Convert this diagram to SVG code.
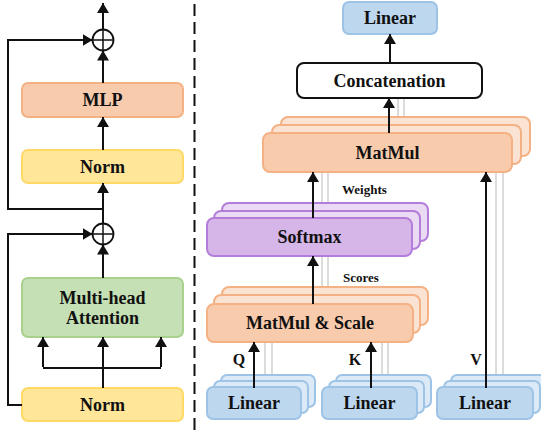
<svg xmlns="http://www.w3.org/2000/svg" width="541" height="433" viewBox="0 0 541 433">
<style>
text{font-family:"Liberation Serif","Times New Roman",serif;font-weight:bold;fill:#111;text-anchor:middle;dominant-baseline:central}
.t{font-size:18px}
.s{font-size:13px;text-anchor:start}
.l{font-size:16px}
.box{stroke-width:2}
.or{fill:#F8CBAD;stroke:#F4B183}
.orb{fill:#FBE3D3;stroke:#F4B183}
.ye{fill:#FFE699;stroke:#FFD966}
.gr{fill:#C5E0B4;stroke:#A9D18E}
.bl{fill:#BDD7EE;stroke:#9DC3E6}
.blb{fill:#DCEAF7;stroke:#9DC3E6}
.pu{fill:#D6B5E8;stroke:#B57DDA}
.pub{fill:#EADAF4;stroke:#B57DDA}
.wh{fill:#fff;stroke:#111}
.ln{fill:none;stroke:#111;stroke-width:2}
.ar{fill:none;stroke:#111;stroke-width:2;marker-end:url(#ah)}
.gy{fill:none;stroke:#d4d4d4;stroke-width:1.6}
</style>
<defs>
<marker id="ah" viewBox="0 0 10 12" refX="10" refY="6" markerWidth="10" markerHeight="12" markerUnits="userSpaceOnUse" orient="auto">
<path d="M0,0 L10,6 L0,12 z" fill="#111"/>
</marker>
</defs>

<g id="gray-lines">
<line class="gy" x1="398" y1="98" x2="398" y2="118"/>
<line class="gy" x1="404" y1="98" x2="404" y2="118"/>
<line class="gy" x1="322" y1="172" x2="322" y2="204"/>
<line class="gy" x1="328" y1="172" x2="328" y2="204"/>
<line class="gy" x1="322" y1="256" x2="322" y2="288"/>
<line class="gy" x1="328" y1="256" x2="328" y2="288"/>
<line class="gy" x1="265" y1="342" x2="265" y2="376"/>
<line class="gy" x1="272" y1="342" x2="272" y2="376"/>
<line class="gy" x1="382" y1="342" x2="382" y2="376"/>
<line class="gy" x1="388" y1="342" x2="388" y2="376"/>
<line class="gy" x1="496" y1="172" x2="496" y2="376"/>
<line class="gy" x1="503" y1="172" x2="503" y2="376"/>
</g>

<g id="divider">
<line x1="194.5" y1="4" x2="194.5" y2="433" stroke="#111" stroke-width="2" stroke-dasharray="12,6"/>
</g>

<g id="mlp"><rect class="box or" x="22" y="83" width="161" height="34" rx="6"/><text class="t" x="102.5" y="100">MLP</text></g>
<g id="norm1"><rect class="box ye" x="22" y="150" width="161" height="33" rx="6"/><text class="t" x="102.5" y="166.5">Norm</text></g>
<g id="mha"><rect class="box gr" x="22" y="278" width="161" height="59" rx="6"/><text class="t" x="102.5" y="297.5">Multi-head</text><text class="t" x="102.5" y="317.5">Attention</text></g>
<g id="norm2"><rect class="box ye" x="22" y="388" width="161" height="33" rx="6"/><text class="t" x="102.5" y="404.5">Norm</text></g>
<g id="add1"><circle cx="103" cy="40" r="10.5" fill="#fff" stroke="#111" stroke-width="1.8"/><path d="M92.5,40 H113.5 M103,29.5 V50.5" stroke="#111" stroke-width="1.5"/></g>
<g id="add2"><circle cx="103" cy="234" r="10.5" fill="#fff" stroke="#111" stroke-width="1.8"/><path d="M92.5,234 H113.5 M103,223.5 V244.5" stroke="#111" stroke-width="1.5"/></g>

<g id="linear-out"><rect class="box bl" x="343" y="2" width="94" height="32" rx="6"/><text class="t" x="390" y="18">Linear</text></g>
<g id="concat"><rect class="box wh" x="297" y="63" width="185" height="35" rx="7"/><text class="t" x="389.5" y="80.5">Concatenation</text></g>
<g id="matmul">
<rect class="box orb" x="281" y="117" width="249" height="39" rx="7"/>
<rect class="box orb" x="272" y="125" width="249" height="39" rx="7"/>
<rect class="box or" x="263" y="133" width="249" height="39" rx="7"/>
<text class="t" x="387.5" y="152.5">MatMul</text>
</g>
<g id="softmax">
<rect class="box pub" x="222" y="203" width="206" height="38" rx="7"/>
<rect class="box pub" x="214" y="211" width="206" height="38" rx="7"/>
<rect class="box pu" x="207" y="218" width="205" height="38" rx="7"/>
<text class="t" x="309.5" y="237">Softmax</text>
</g>
<g id="matmul-scale">
<rect class="box orb" x="222" y="287" width="206" height="38" rx="7"/>
<rect class="box orb" x="214" y="295" width="206" height="38" rx="7"/>
<rect class="box or" x="207" y="304" width="206" height="38" rx="7"/>
<text class="t" x="310" y="323">MatMul &amp; Scale</text>
</g>
<g id="linear-q">
<rect class="box blb" x="221" y="375" width="94" height="32" rx="6"/>
<rect class="box blb" x="214" y="381" width="94" height="32" rx="6"/>
<rect class="box bl" x="207" y="387" width="94" height="32" rx="6"/>
<text class="t" x="254" y="403">Linear</text>
</g>
<g id="linear-k">
<rect class="box blb" x="336" y="375" width="95" height="32" rx="6"/>
<rect class="box blb" x="329" y="381" width="95" height="32" rx="6"/>
<rect class="box bl" x="322" y="387" width="95" height="32" rx="6"/>
<text class="t" x="369.5" y="403">Linear</text>
</g>
<g id="linear-v">
<rect class="box blb" x="451" y="375" width="96" height="32" rx="6"/>
<rect class="box blb" x="444" y="381" width="96" height="32" rx="6"/>
<rect class="box bl" x="437" y="387" width="96" height="32" rx="6"/>
<text class="t" x="485" y="403">Linear</text>
</g>

<g id="connectors">
<line class="ar" x1="103" y1="29.5" x2="103" y2="3"/>
<line class="ar" x1="103" y1="83" x2="103" y2="50.5"/>
<line class="ar" x1="103" y1="150" x2="103" y2="117"/>
<line class="ar" x1="103" y1="223.5" x2="103" y2="183"/>
<path class="ar" d="M103,209 H8 V40 H92.5"/>
<line class="ar" x1="103" y1="278" x2="103" y2="244.5"/>
<path class="ar" d="M22,405 H8 V234 H92.5"/>
<line class="ar" x1="103" y1="388" x2="103" y2="337"/>
<path class="ln" d="M43,368 H161"/>
<line class="ar" x1="43" y1="367" x2="43" y2="337"/>
<line class="ar" x1="161" y1="367" x2="161" y2="337"/>

<line class="ar" x1="390" y1="63" x2="390" y2="34"/>
<line class="ar" x1="389" y1="133" x2="389" y2="98"/>
<line class="ar" x1="313" y1="218" x2="313" y2="172"/>
<line class="ar" x1="313" y1="304" x2="313" y2="256"/>
<line class="ar" x1="254" y1="388" x2="254" y2="342"/>
<line class="ar" x1="371" y1="388" x2="371" y2="342"/>
<line class="ar" x1="486" y1="388" x2="486" y2="172"/>
</g>

<g id="labels">
<text class="s" x="342" y="189">Weights</text>
<text class="s" x="343" y="277">Scores</text>
<text class="l" x="239" y="359">Q</text>
<text class="l" x="355" y="359">K</text>
<text class="l" x="476" y="359">V</text>
</g>
</svg>
